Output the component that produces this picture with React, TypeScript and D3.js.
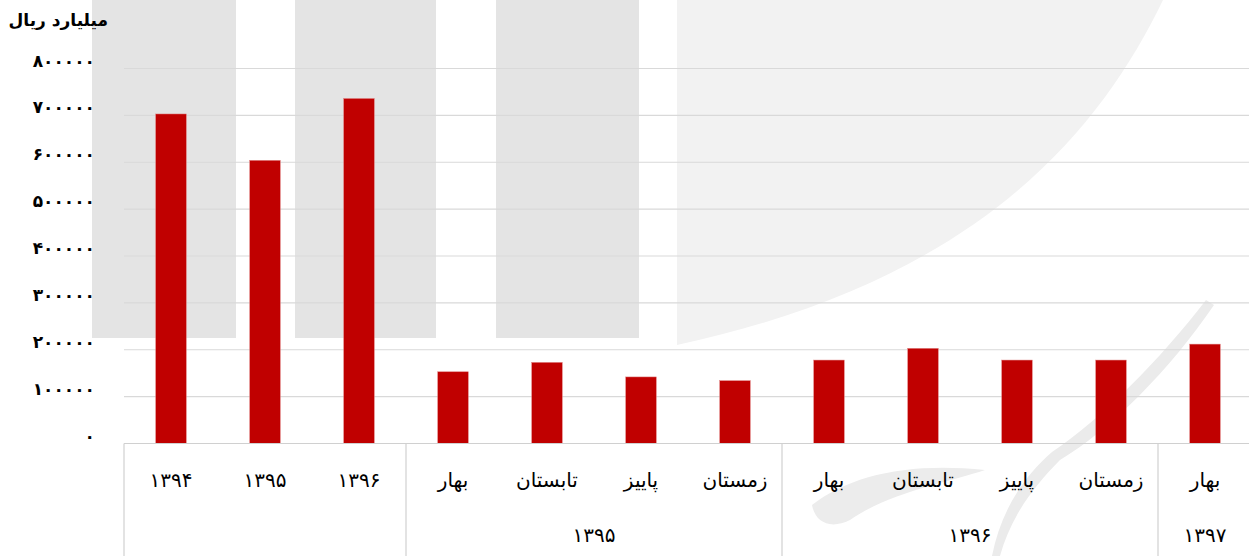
import React from "react";
import * as d3 from "d3";

const categories = ["۱۳۹۴", "۱۳۹۵", "۱۳۹۶", "بهار", "تابستان", "پاییز", "زمستان", "بهار", "تابستان", "پاییز", "زمستان", "بهار"];
const values = [703000, 604000, 736000, 153000, 173000, 142000, 134000, 178000, 203000, 178000, 178000, 212000];
const groups = [
  { label: "", start: 0, end: 3 },
  { label: "۱۳۹۵", start: 3, end: 7 },
  { label: "۱۳۹۶", start: 7, end: 11 },
  { label: "۱۳۹۷", start: 11, end: 12 },
];
const yTicks = [0, 100000, 200000, 300000, 400000, 500000, 600000, 700000, 800000];
const unitLabel = "میلیارد ریال";

const toFa = (n: number) => String(n).replace(/\d/g, (d) => "۰۱۲۳۴۵۶۷۸۹"[+d]);

const W = 1249;
const H = 556;
const FONT = "'DejaVu Sans', sans-serif";

export default function App() {
  const x = d3
    .scaleBand<number>()
    .domain(categories.map((_, i) => i))
    .range([124, 1252])
    .paddingInner(0.675)
    .paddingOuter(0.3375);
  const step = x.step();
  const y = d3.scaleLinear().domain([0, 800000]).range([443.5, 68.5]);
  const base = y(0);
  const boundary = (i: number) => 124 + i * step;

  return (
    <svg
      width={W}
      height={H}
      style={{ position: "absolute", left: 0, top: 0, background: "#fff" }}
      fontFamily={FONT}
    >
      {/* watermark */}
      <g>
        <rect x={92} y={0} width={144} height={338} fill="#e4e4e4" />
        <rect x={295} y={0} width={141} height={338} fill="#e4e4e4" />
        <rect x={496} y={0} width={143} height={338} fill="#e4e4e4" />
        <path d="M677,0 H1163 C1100,130 980,280 677,345 Z" fill="#f2f2f2" />
        <path d="M1214,305 C1170,370 1110,430 1060,460 C1030,490 1010,520 1000,556 L992,556 C1000,515 1020,480 1052,452 C1100,420 1160,360 1206,300 Z" fill="#ebebeb" />
        <path d="M812,505 C850,475 910,462 985,470 C950,482 890,492 850,520 C830,530 815,522 812,505 Z" fill="#ececec" />
      </g>

      {/* gridlines */}
      {yTicks.map((t) => (
        <line key={t} x1={124} x2={W} y1={y(t)} y2={y(t)} stroke="#d9d9d9" strokeWidth={1.2} />
      ))}

      {/* bars */}
      {values.map((v, i) => (
        <rect
          key={i}
          x={x(i)}
          y={y(v)}
          width={x.bandwidth()}
          height={base - y(v)}
          fill="#C00000"
          stroke="#e08080"
          strokeWidth={0.5}
        />
      ))}

      {/* y labels */}
      {yTicks.map((t) => (
        <text
          key={t}
          x={95}
          y={y(t) - 2}
          textAnchor="end"
          fontSize={17}
          fontWeight="bold"
          fill="#000"
        >
          {toFa(t)}
        </text>
      ))}
      <text x={108} y={26} textAnchor="end" fontSize={17} fontWeight="bold" fill="#000">
        {unitLabel}
      </text>

      {/* x axis separators */}
      <line x1={124} x2={W} y1={base} y2={base} stroke="#d0d0d0" strokeWidth={1.2} />
      {groups.map((g) => (
        <line key={g.start} x1={boundary(g.start)} x2={boundary(g.start)} y1={base} y2={H} stroke="#d0d0d0" strokeWidth={1.2} />
      ))}

      {/* category labels */}
      {categories.map((c, i) => (
        <text
          key={i}
          x={(x(i) as number) + x.bandwidth() / 2}
          y={487}
          textAnchor="middle"
          fontSize={20}
          fill="#000"
        >
          {c}
        </text>
      ))}
      {groups.map((g) =>
        g.label ? (
          <text
            key={g.label}
            x={(boundary(g.start) + boundary(g.end)) / 2}
            y={542}
            textAnchor="middle"
            fontSize={20}
            fill="#000"
          >
            {g.label}
          </text>
        ) : null
      )}
    </svg>
  );
}
